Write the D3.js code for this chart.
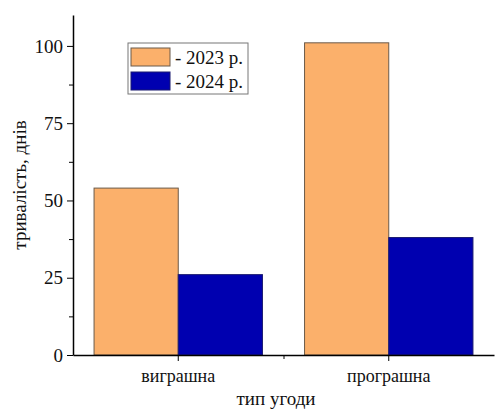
<!DOCTYPE html>
<html>
<head>
<meta charset="utf-8">
<script src="https://cdn.jsdelivr.net/npm/d3@7"></script>
<style>
  body { margin: 0; background: #fff; }
  svg { display: block; }
  svg text { font-family: "Liberation Serif", "Times New Roman", serif; }
</style>
</head>
<body>
<div id="chart"></div>
<script>
// дані
const categories = ["виграшна", "програшна"];
const seriesNames = ["- 2023 р.", "- 2024 р."];
const values2023 = [54, 101];
const values2024 = [26, 38];
const majorTicks = [0, 25, 50, 75, 100];
const minorTicks = [12.5, 37.5, 62.5, 87.5];
const colors = ["#FBB06B", "#0000B0"];

const width = 495, height = 410;
const margin = { top: 15, right: 1, bottom: 55, left: 73 };
const innerW = width - margin.left - margin.right;
const innerH = height - margin.top - margin.bottom;

const svg = d3.select("#chart").append("svg")
    .attr("width", width)
    .attr("height", height);

const g = svg.append("g")
    .attr("transform", `translate(${margin.left},${margin.top})`);

// шкали
const x = d3.scaleBand().domain(categories).range([0, innerW]).padding(0);
const xSub = d3.scaleBand().domain(seriesNames)
    .range([x.bandwidth() * 0.1, x.bandwidth() * 0.9]).padding(0);
const y = d3.scaleLinear().domain([0, 110]).range([innerH, 0]);

const rows = categories.map((c, i) => ({
    cat: c,
    vals: [values2023[i], values2024[i]]
}));

// стовпці
const grp = g.selectAll(".grp").data(rows).enter().append("g")
    .attr("transform", d => `translate(${x(d.cat)},0)`);

grp.selectAll("rect")
    .data(d => d.vals.map((v, j) => ({ name: seriesNames[j], v, j })))
    .enter().append("rect")
    .attr("x", d => xSub(d.name))
    .attr("y", d => y(d.v))
    .attr("width", xSub.bandwidth())
    .attr("height", d => y(0) - y(d.v))
    .attr("fill", d => colors[d.j])
    .attr("stroke", d => d.j === 0 ? "#6b5a4a" : "#1a1a70")
    .attr("stroke-width", 1);

// вісь y
const yAxis = g.append("g")
    .call(d3.axisLeft(y).tickValues(majorTicks).tickSize(6).tickPadding(4).tickSizeOuter(0));
yAxis.attr("font-family", null);
yAxis.select(".domain").attr("stroke", "#000").attr("stroke-width", 1.5);
yAxis.selectAll("text").style("font-size", "19px").attr("fill", "#111");

g.append("g")
    .call(d3.axisLeft(y).tickValues(minorTicks).tickSize(4).tickFormat("").tickSizeOuter(0))
    .call(s => s.select(".domain").remove());

// вісь x
const xAxis = g.append("g")
    .attr("transform", `translate(0,${innerH})`)
    .call(d3.axisBottom(x).tickSize(6).tickPadding(8).tickSizeOuter(0));
xAxis.attr("font-family", null);
xAxis.select(".domain").attr("stroke", "#000").attr("stroke-width", 1.5);
xAxis.selectAll("text").style("font-size", "18px").attr("fill", "#111");

// мінорна позначка між категоріями
const xMinor = d3.scaleLinear().domain([0, 1]).range([0, innerW]);
g.append("g")
    .attr("transform", `translate(0,${innerH})`)
    .call(d3.axisBottom(xMinor).tickValues([0.5]).tickSize(4).tickFormat("").tickSizeOuter(0))
    .call(s => s.select(".domain").remove());

// підписи осей
svg.append("text")
    .attr("transform", `translate(26,${margin.top + y(55)}) rotate(-90)`)
    .attr("text-anchor", "middle")
    .style("font-size", "19px")
    .attr("fill", "#111")
    .text("тривалість, днів");

svg.append("text")
    .attr("x", 276)
    .attr("y", 405)
    .attr("text-anchor", "middle")
    .style("font-size", "19px")
    .attr("fill", "#111")
    .text("тип угоди");

// легенда
const legend = svg.append("g").attr("transform", "translate(128,43)");
legend.append("rect")
    .attr("width", 120).attr("height", 51)
    .attr("fill", "#fff").attr("stroke", "#777").attr("stroke-width", 1);
seriesNames.forEach((name, i) => {
    legend.append("rect")
        .attr("x", 3).attr("y", 5 + i * 24)
        .attr("width", 39).attr("height", 18)
        .attr("fill", colors[i])
        .attr("stroke", i === 0 ? "#6b5a4a" : "#1a1a70");
    legend.append("text")
        .attr("x", 47).attr("y", 14 + i * 24)
        .attr("dy", "0.35em")
        .style("font-size", "19px")
        .attr("fill", "#111")
        .text(name);
});
</script>
</body>
</html>
